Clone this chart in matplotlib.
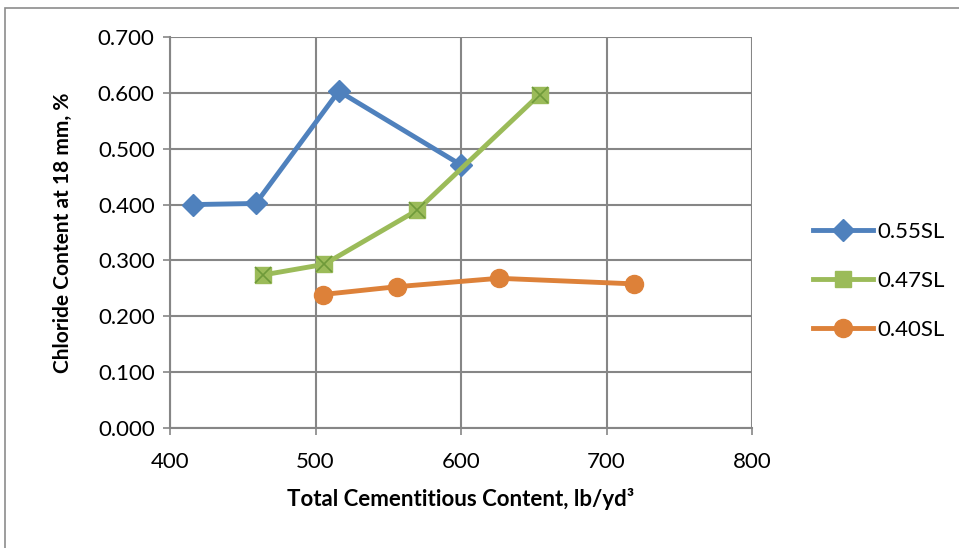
import matplotlib
matplotlib.use("Agg")
import matplotlib.pyplot as plt
from matplotlib.patches import Rectangle

x_055 = [416, 459, 516, 600]
y_055 = [0.400, 0.402, 0.603, 0.471]
x_047 = [464, 506, 570, 654]
y_047 = [0.274, 0.293, 0.390, 0.597]
x_040 = [505, 556, 626, 719]
y_040 = [0.239, 0.253, 0.268, 0.258]
labels = ["0.55SL", "0.47SL", "0.40SL"]
colors = ["#4f81bd", "#9bbb59", "#dd8139"]

plt.rcParams['font.family'] = ['Lato', 'DejaVu Sans']

W, H = 959, 548
fig = plt.figure(figsize=(W/100, H/100), dpi=100)
fig.patches.append(Rectangle((5/W, -0.01), 1.0, (H-8)/H + 0.01, transform=fig.transFigure,
                             fill=False, edgecolor="#8c8c8c", lw=1.2))
ax = fig.add_axes([170/W, 1-428/H, (752-170)/W, (428-37)/H])

ax.plot(x_055, y_055, color=colors[0], lw=3.5, marker='D', ms=11, label=labels[0], zorder=3)
ax.plot(x_047, y_047, color=colors[1], lw=3.5, marker='s', ms=12, label=labels[1], zorder=3)
ax.plot(x_047, y_047, color="#6f9a3a", lw=0, marker='x', ms=12, mew=1.2, zorder=4)
ax.plot(x_040, y_040, color=colors[2], lw=3.5, marker='o', ms=13, label=labels[2], zorder=3)

ax.set_xlim(400, 800)
ax.set_ylim(0, 0.7)
ax.set_xticks([400, 500, 600, 700, 800])
ax.set_yticks([i/10 for i in range(8)])
ax.set_yticklabels([f"{i/10:.3f}" for i in range(8)])
ax.grid(True, color="#868686", lw=1.5)
ax.set_axisbelow(True)
for s in ["top", "right"]:
    ax.spines[s].set_visible(False)
for s in ["left", "bottom"]:
    ax.spines[s].set_color("#868686")
    ax.spines[s].set_linewidth(1.5)
ax.tick_params(axis='both', colors="#868686", labelcolor="black", labelsize=16, length=5, width=1.2)
ax.tick_params(axis='x', pad=12)
ax.tick_params(axis='y', pad=6)
ax.set_xlabel("Total Cementitious Content, lb/yd³", fontsize=16, fontweight='bold', labelpad=12)
ax.set_ylabel("Chloride Content at 18 mm, %", fontsize=15, fontweight='bold', labelpad=18)

leg = ax.legend(loc='center left', bbox_to_anchor=(1.071, 0.376), frameon=False, fontsize=16,
                handlelength=2.7, labelspacing=1.3, handletextpad=0.2)
fig.savefig("out.png", dpi=100)
